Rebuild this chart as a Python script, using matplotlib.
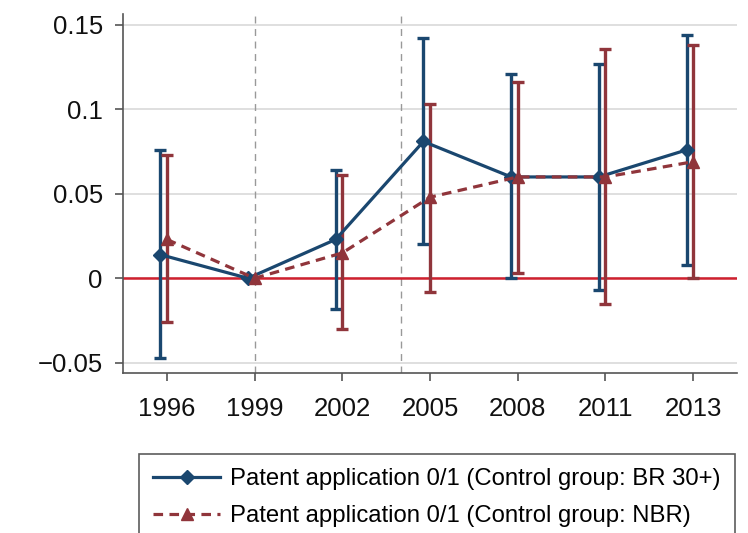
import matplotlib
matplotlib.use("Agg")
import matplotlib.pyplot as plt
import numpy as np

plt.rcParams['font.family'] = ['Liberation Sans', 'DejaVu Sans']

years = ["1996", "1999", "2002", "2005", "2008", "2011", "2013"]
br_coef = [0.014, 0.0, 0.023, 0.081, 0.060, 0.060, 0.076]
br_lo = [-0.047, 0.0, -0.018, 0.020, 0.000, -0.007, 0.008]
br_hi = [0.076, 0.0, 0.064, 0.142, 0.121, 0.127, 0.144]
nbr_coef = [0.023, 0.0, 0.015, 0.048, 0.060, 0.060, 0.069]
nbr_lo = [-0.026, 0.0, -0.030, -0.008, 0.003, -0.015, 0.000]
nbr_hi = [0.073, 0.0, 0.061, 0.103, 0.116, 0.136, 0.138]
yticks = [-0.05, 0, 0.05, 0.1, 0.15]
ytick_labels = ["\u22120.05", "0", "0.05", "0.1", "0.15"]
labels = ["Patent application 0/1 (Control group: BR 30+)",
          "Patent application 0/1 (Control group: NBR)"]

blue = "#1a476f"
red = "#90353b"

fig = plt.figure(figsize=(7.48, 5.33), dpi=100)
ax = fig.add_axes([123/748, 1-373/533, (737-123)/748, (373-14)/533])

x = np.arange(len(years))
xb = x - 0.075
xr = x.astype(float)

ax.set_xlim(-0.5, 6.5)
ax.set_ylim(-0.0561, 0.1565)

for yv in yticks:
    ax.axhline(yv, color="#d9d9d9", lw=1.2, zorder=0)
ax.axvline(1, color="#999999", lw=1.0, ls=(0, (5, 4)), zorder=1)
ax.axvline(2.67, color="#999999", lw=1.0, ls=(0, (5, 4)), zorder=1)
ax.axhline(0, color="#d0202e", lw=1.8, zorder=2)

def draw(xs, c, lo, hi, color, marker, ls, label, ms):
    c = np.array(c); lo = np.array(lo); hi = np.array(hi)
    mask = (hi - lo) > 0
    ax.errorbar(xs[mask], c[mask], yerr=[c[mask]-lo[mask], hi[mask]-c[mask]],
                fmt='none', ecolor=color, elinewidth=2.4, capsize=4, capthick=2.4, zorder=3)
    ax.plot(xs, c, color=color, lw=2.3, ls=ls, marker=marker, ms=ms,
            label=label, zorder=4)

draw(xb, br_coef, br_lo, br_hi, blue, 'D', '-', labels[0], 7)
draw(xr, nbr_coef, nbr_lo, nbr_hi, red, '^', (0, (3, 2)), labels[1], 8)

ax.set_xticks(x)
ax.set_xticklabels(years, fontsize=18.5)
ax.set_yticks(yticks)
ax.set_yticklabels(ytick_labels, fontsize=18.5)
ax.tick_params(axis='both', length=5.5, width=1.2, color="#555555", labelcolor="#111111")
ax.tick_params(axis='x', pad=12)
ax.tick_params(axis='y', pad=9)
for s in ["top", "right"]:
    ax.spines[s].set_visible(False)
for s in ["left", "bottom"]:
    ax.spines[s].set_color("#555555")
    ax.spines[s].set_linewidth(1.2)

h, l = ax.get_legend_handles_labels()
leg = fig.legend(h, l, loc="upper left", bbox_to_anchor=(139/748, 1-454/533),
                 fontsize=17.2, frameon=True, fancybox=False, edgecolor="#333333",
                 handlelength=2.8, borderpad=0.6, labelspacing=0.62, handletextpad=0.4,
                 borderaxespad=0)
leg.get_frame().set_linewidth(1.2)

fig.savefig("out.png", dpi=100)
